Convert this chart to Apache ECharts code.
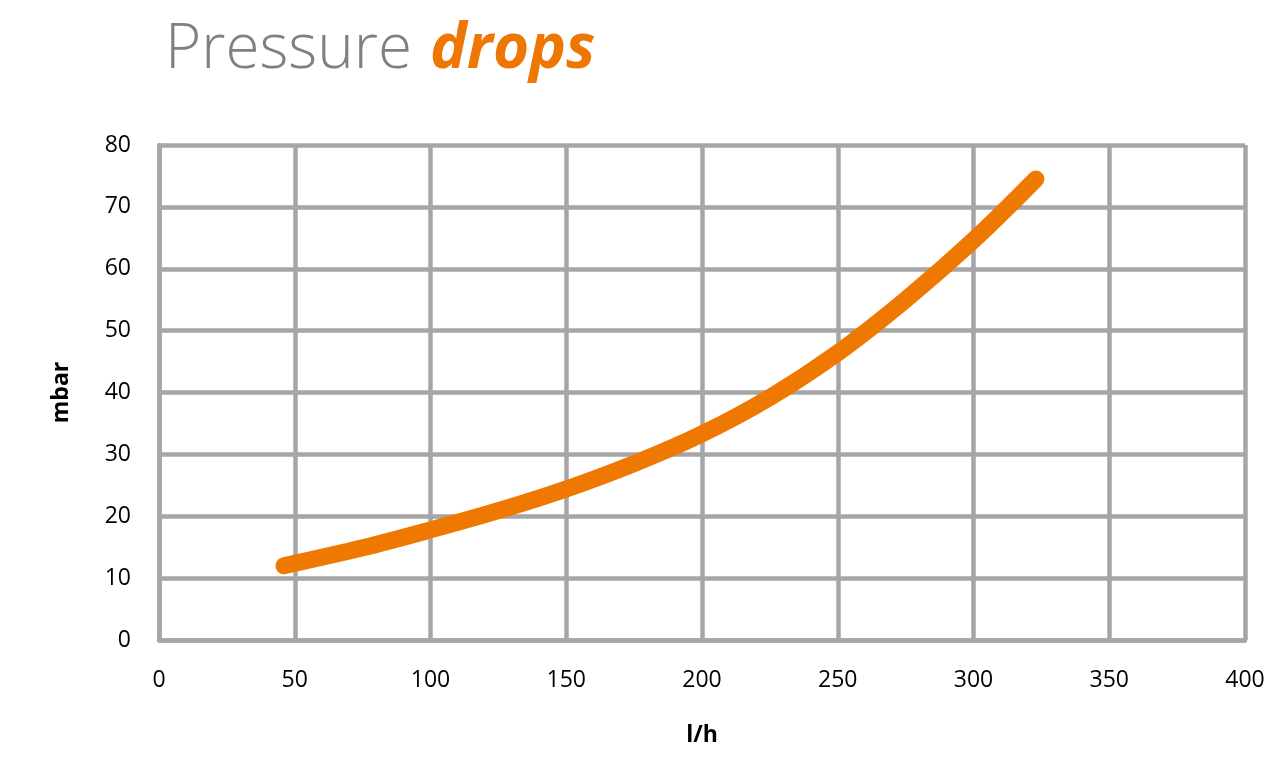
<!DOCTYPE html>
<html>
<head>
<meta charset="utf-8">
<script src="https://cdn.jsdelivr.net/npm/echarts@6/dist/echarts.min.js"></script>
<style>
html,body{margin:0;padding:0;background:#fff;}
#chart{width:1282px;height:771px;}
</style>
</head>
<body>
<div id="chart"></div>
<script>
const titleLight = 'Pressure';
const titleBold = 'drops';
const xName = 'l/h';
const yName = 'mbar';
const flowValues = [46, 75, 100, 125, 150, 175, 200, 225, 250, 275, 300, 323];
const pressureValues = [12, 14.9, 17.8, 20.9, 24.4, 28.5, 33.3, 39.2, 46.4, 55.0, 64.6, 74.5];

const seriesData = flowValues.map((x, i) => [x, pressureValues[i]]);
const gridColor = '#a6a6a6';
const labelFont = '"Open Sans", "Noto Sans", sans-serif';

const chart = echarts.init(document.getElementById('chart'));
chart.setOption({
  backgroundColor: '#fff',
  animation: false,
  title: {
    text: '{a|' + titleLight + '}{b|' + titleBold + '}',
    left: 160,
    top: 14,
    textStyle: {
      rich: {
        a: { fontFamily: labelFont, fontWeight: 300, fontSize: 62, color: '#808080' },
        b: { fontFamily: labelFont, fontWeight: 'bold', fontStyle: 'italic', fontSize: 62, color: '#ee7703', padding: [0, 0, 0, 18] }
      }
    }
  },
  grid: { left: 159, right: 37, top: 145, bottom: 131, containLabel: false },
  xAxis: {
    type: 'value', min: 0, max: 400, interval: 50,
    name: xName, nameLocation: 'middle', nameGap: 84,
    nameTextStyle: { fontFamily: labelFont, fontWeight: 'bold', fontSize: 23, color: '#000' },
    axisLine: { show: true, lineStyle: { color: gridColor, width: 4.5 } },
    axisTick: { show: false },
    axisLabel: { fontFamily: labelFont, fontSize: 23, color: '#000', margin: 29 },
    splitLine: { show: true, lineStyle: { color: gridColor, width: 4.5 } }
  },
  yAxis: {
    type: 'value', min: 0, max: 80, interval: 10,
    name: yName, nameLocation: 'middle', nameGap: 86,
    nameTextStyle: { fontFamily: labelFont, fontWeight: 'bold', fontSize: 23, color: '#000' },
    axisLine: { show: true, lineStyle: { color: gridColor, width: 4.5 } },
    axisTick: { show: false },
    axisLabel: { fontFamily: labelFont, fontSize: 23, color: '#000', margin: 28 },
    splitLine: { show: true, lineStyle: { color: gridColor, width: 4.5 } }
  },
  series: [{
    type: 'line',
    data: seriesData,
    smooth: 0.35,
    showSymbol: false,
    lineStyle: { color: '#ef7800', width: 17, cap: 'round', join: 'round' },
    z: 5
  }]
});
</script>
</body>
</html>
